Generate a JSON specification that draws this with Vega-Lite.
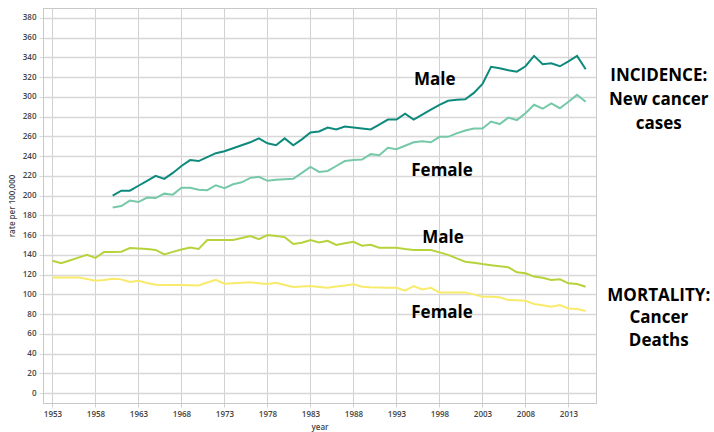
{
  "$schema": "https://vega.github.io/schema/vega-lite/v6.json",
  "autosize": "none",
  "width": 553,
  "height": 395,
  "padding": {"left": 43, "top": 8, "right": 118, "bottom": 29},
  "background": "white",
  "config": {
    "view": {"stroke": "#c8c8c8", "strokeWidth": 1},
    "font": "Open Sans"
  },
  "datasets": {
    "lines": [
      {"year":1960,"value":200,"series":"Incidence Male"},
      {"year":1961,"value":205,"series":"Incidence Male"},
      {"year":1962,"value":205,"series":"Incidence Male"},
      {"year":1963,"value":210,"series":"Incidence Male"},
      {"year":1964,"value":215,"series":"Incidence Male"},
      {"year":1965,"value":220,"series":"Incidence Male"},
      {"year":1966,"value":217,"series":"Incidence Male"},
      {"year":1967,"value":223,"series":"Incidence Male"},
      {"year":1968,"value":230,"series":"Incidence Male"},
      {"year":1969,"value":236,"series":"Incidence Male"},
      {"year":1970,"value":235,"series":"Incidence Male"},
      {"year":1971,"value":239,"series":"Incidence Male"},
      {"year":1972,"value":243,"series":"Incidence Male"},
      {"year":1973,"value":245,"series":"Incidence Male"},
      {"year":1974,"value":248,"series":"Incidence Male"},
      {"year":1975,"value":251,"series":"Incidence Male"},
      {"year":1976,"value":254,"series":"Incidence Male"},
      {"year":1977,"value":258,"series":"Incidence Male"},
      {"year":1978,"value":253,"series":"Incidence Male"},
      {"year":1979,"value":251,"series":"Incidence Male"},
      {"year":1980,"value":258,"series":"Incidence Male"},
      {"year":1981,"value":251,"series":"Incidence Male"},
      {"year":1982,"value":257,"series":"Incidence Male"},
      {"year":1983,"value":264,"series":"Incidence Male"},
      {"year":1984,"value":265,"series":"Incidence Male"},
      {"year":1985,"value":269,"series":"Incidence Male"},
      {"year":1986,"value":267,"series":"Incidence Male"},
      {"year":1987,"value":270,"series":"Incidence Male"},
      {"year":1988,"value":269,"series":"Incidence Male"},
      {"year":1989,"value":268,"series":"Incidence Male"},
      {"year":1990,"value":267,"series":"Incidence Male"},
      {"year":1991,"value":272,"series":"Incidence Male"},
      {"year":1992,"value":277,"series":"Incidence Male"},
      {"year":1993,"value":277,"series":"Incidence Male"},
      {"year":1994,"value":283,"series":"Incidence Male"},
      {"year":1995,"value":277,"series":"Incidence Male"},
      {"year":1996,"value":282,"series":"Incidence Male"},
      {"year":1997,"value":287,"series":"Incidence Male"},
      {"year":1998,"value":292,"series":"Incidence Male"},
      {"year":1999,"value":296,"series":"Incidence Male"},
      {"year":2000,"value":297,"series":"Incidence Male"},
      {"year":2001,"value":297.5,"series":"Incidence Male"},
      {"year":2002,"value":304,"series":"Incidence Male"},
      {"year":2003,"value":313,"series":"Incidence Male"},
      {"year":2004,"value":330.5,"series":"Incidence Male"},
      {"year":2005,"value":329,"series":"Incidence Male"},
      {"year":2006,"value":327,"series":"Incidence Male"},
      {"year":2007,"value":325.5,"series":"Incidence Male"},
      {"year":2008,"value":331,"series":"Incidence Male"},
      {"year":2009,"value":341.5,"series":"Incidence Male"},
      {"year":2010,"value":333,"series":"Incidence Male"},
      {"year":2011,"value":334,"series":"Incidence Male"},
      {"year":2012,"value":331,"series":"Incidence Male"},
      {"year":2013,"value":336,"series":"Incidence Male"},
      {"year":2014,"value":341.5,"series":"Incidence Male"},
      {"year":2015,"value":328,"series":"Incidence Male"},

      {"year":1960,"value":188,"series":"Incidence Female"},
      {"year":1961,"value":189.5,"series":"Incidence Female"},
      {"year":1962,"value":195,"series":"Incidence Female"},
      {"year":1963,"value":193.5,"series":"Incidence Female"},
      {"year":1964,"value":198,"series":"Incidence Female"},
      {"year":1965,"value":197.5,"series":"Incidence Female"},
      {"year":1966,"value":202,"series":"Incidence Female"},
      {"year":1967,"value":201,"series":"Incidence Female"},
      {"year":1968,"value":208,"series":"Incidence Female"},
      {"year":1969,"value":208,"series":"Incidence Female"},
      {"year":1970,"value":206,"series":"Incidence Female"},
      {"year":1971,"value":205.5,"series":"Incidence Female"},
      {"year":1972,"value":210.5,"series":"Incidence Female"},
      {"year":1973,"value":207.5,"series":"Incidence Female"},
      {"year":1974,"value":211.5,"series":"Incidence Female"},
      {"year":1975,"value":213.5,"series":"Incidence Female"},
      {"year":1976,"value":218,"series":"Incidence Female"},
      {"year":1977,"value":219,"series":"Incidence Female"},
      {"year":1978,"value":215,"series":"Incidence Female"},
      {"year":1979,"value":216,"series":"Incidence Female"},
      {"year":1980,"value":216.5,"series":"Incidence Female"},
      {"year":1981,"value":217,"series":"Incidence Female"},
      {"year":1982,"value":223,"series":"Incidence Female"},
      {"year":1983,"value":229,"series":"Incidence Female"},
      {"year":1984,"value":224,"series":"Incidence Female"},
      {"year":1985,"value":225,"series":"Incidence Female"},
      {"year":1986,"value":230,"series":"Incidence Female"},
      {"year":1987,"value":235,"series":"Incidence Female"},
      {"year":1988,"value":236,"series":"Incidence Female"},
      {"year":1989,"value":236.5,"series":"Incidence Female"},
      {"year":1990,"value":242,"series":"Incidence Female"},
      {"year":1991,"value":241,"series":"Incidence Female"},
      {"year":1992,"value":248.5,"series":"Incidence Female"},
      {"year":1993,"value":247,"series":"Incidence Female"},
      {"year":1994,"value":250.5,"series":"Incidence Female"},
      {"year":1995,"value":254,"series":"Incidence Female"},
      {"year":1996,"value":255,"series":"Incidence Female"},
      {"year":1997,"value":254,"series":"Incidence Female"},
      {"year":1998,"value":259.5,"series":"Incidence Female"},
      {"year":1999,"value":259.5,"series":"Incidence Female"},
      {"year":2000,"value":263,"series":"Incidence Female"},
      {"year":2001,"value":266,"series":"Incidence Female"},
      {"year":2002,"value":268,"series":"Incidence Female"},
      {"year":2003,"value":268,"series":"Incidence Female"},
      {"year":2004,"value":275,"series":"Incidence Female"},
      {"year":2005,"value":272.5,"series":"Incidence Female"},
      {"year":2006,"value":279,"series":"Incidence Female"},
      {"year":2007,"value":276.5,"series":"Incidence Female"},
      {"year":2008,"value":283.5,"series":"Incidence Female"},
      {"year":2009,"value":292,"series":"Incidence Female"},
      {"year":2010,"value":288,"series":"Incidence Female"},
      {"year":2011,"value":293.5,"series":"Incidence Female"},
      {"year":2012,"value":288.5,"series":"Incidence Female"},
      {"year":2013,"value":295,"series":"Incidence Female"},
      {"year":2014,"value":302,"series":"Incidence Female"},
      {"year":2015,"value":295,"series":"Incidence Female"},

      {"year":1953,"value":134,"series":"Mortality Male"},
      {"year":1954,"value":131.5,"series":"Mortality Male"},
      {"year":1955,"value":134.3,"series":"Mortality Male"},
      {"year":1956,"value":137.2,"series":"Mortality Male"},
      {"year":1957,"value":140,"series":"Mortality Male"},
      {"year":1958,"value":137,"series":"Mortality Male"},
      {"year":1959,"value":143,"series":"Mortality Male"},
      {"year":1960,"value":143,"series":"Mortality Male"},
      {"year":1961,"value":143.2,"series":"Mortality Male"},
      {"year":1962,"value":147,"series":"Mortality Male"},
      {"year":1963,"value":146.5,"series":"Mortality Male"},
      {"year":1964,"value":146,"series":"Mortality Male"},
      {"year":1965,"value":145,"series":"Mortality Male"},
      {"year":1966,"value":140.5,"series":"Mortality Male"},
      {"year":1967,"value":143,"series":"Mortality Male"},
      {"year":1968,"value":145.5,"series":"Mortality Male"},
      {"year":1969,"value":147.5,"series":"Mortality Male"},
      {"year":1970,"value":146,"series":"Mortality Male"},
      {"year":1971,"value":155,"series":"Mortality Male"},
      {"year":1972,"value":155,"series":"Mortality Male"},
      {"year":1973,"value":155,"series":"Mortality Male"},
      {"year":1974,"value":155,"series":"Mortality Male"},
      {"year":1975,"value":157,"series":"Mortality Male"},
      {"year":1976,"value":159,"series":"Mortality Male"},
      {"year":1977,"value":156,"series":"Mortality Male"},
      {"year":1978,"value":160,"series":"Mortality Male"},
      {"year":1979,"value":159,"series":"Mortality Male"},
      {"year":1980,"value":158,"series":"Mortality Male"},
      {"year":1981,"value":151,"series":"Mortality Male"},
      {"year":1982,"value":152.3,"series":"Mortality Male"},
      {"year":1983,"value":155,"series":"Mortality Male"},
      {"year":1984,"value":152.5,"series":"Mortality Male"},
      {"year":1985,"value":154.3,"series":"Mortality Male"},
      {"year":1986,"value":150,"series":"Mortality Male"},
      {"year":1987,"value":151.7,"series":"Mortality Male"},
      {"year":1988,"value":153.3,"series":"Mortality Male"},
      {"year":1989,"value":149.3,"series":"Mortality Male"},
      {"year":1990,"value":150.3,"series":"Mortality Male"},
      {"year":1991,"value":147.2,"series":"Mortality Male"},
      {"year":1992,"value":147.2,"series":"Mortality Male"},
      {"year":1993,"value":147.2,"series":"Mortality Male"},
      {"year":1994,"value":146,"series":"Mortality Male"},
      {"year":1995,"value":145,"series":"Mortality Male"},
      {"year":1996,"value":145,"series":"Mortality Male"},
      {"year":1997,"value":145,"series":"Mortality Male"},
      {"year":1998,"value":142.5,"series":"Mortality Male"},
      {"year":1999,"value":140,"series":"Mortality Male"},
      {"year":2000,"value":136.5,"series":"Mortality Male"},
      {"year":2001,"value":133,"series":"Mortality Male"},
      {"year":2002,"value":132,"series":"Mortality Male"},
      {"year":2003,"value":130.7,"series":"Mortality Male"},
      {"year":2004,"value":129.6,"series":"Mortality Male"},
      {"year":2005,"value":128.5,"series":"Mortality Male"},
      {"year":2006,"value":127.4,"series":"Mortality Male"},
      {"year":2007,"value":122.3,"series":"Mortality Male"},
      {"year":2008,"value":121.3,"series":"Mortality Male"},
      {"year":2009,"value":118,"series":"Mortality Male"},
      {"year":2010,"value":116.8,"series":"Mortality Male"},
      {"year":2011,"value":114.5,"series":"Mortality Male"},
      {"year":2012,"value":115.2,"series":"Mortality Male"},
      {"year":2013,"value":111.2,"series":"Mortality Male"},
      {"year":2014,"value":110.5,"series":"Mortality Male"},
      {"year":2015,"value":107.7,"series":"Mortality Male"},

      {"year":1953,"value":117.2,"series":"Mortality Female"},
      {"year":1954,"value":117.2,"series":"Mortality Female"},
      {"year":1955,"value":117.2,"series":"Mortality Female"},
      {"year":1956,"value":117.2,"series":"Mortality Female"},
      {"year":1957,"value":115.5,"series":"Mortality Female"},
      {"year":1958,"value":113.8,"series":"Mortality Female"},
      {"year":1959,"value":114.5,"series":"Mortality Female"},
      {"year":1960,"value":115.8,"series":"Mortality Female"},
      {"year":1961,"value":115.2,"series":"Mortality Female"},
      {"year":1962,"value":112.5,"series":"Mortality Female"},
      {"year":1963,"value":113.8,"series":"Mortality Female"},
      {"year":1964,"value":111.5,"series":"Mortality Female"},
      {"year":1965,"value":109.7,"series":"Mortality Female"},
      {"year":1966,"value":109.5,"series":"Mortality Female"},
      {"year":1967,"value":109.5,"series":"Mortality Female"},
      {"year":1968,"value":109.5,"series":"Mortality Female"},
      {"year":1969,"value":109.3,"series":"Mortality Female"},
      {"year":1970,"value":109.1,"series":"Mortality Female"},
      {"year":1971,"value":112,"series":"Mortality Female"},
      {"year":1972,"value":114.8,"series":"Mortality Female"},
      {"year":1973,"value":110.8,"series":"Mortality Female"},
      {"year":1974,"value":111.2,"series":"Mortality Female"},
      {"year":1975,"value":111.7,"series":"Mortality Female"},
      {"year":1976,"value":112.2,"series":"Mortality Female"},
      {"year":1977,"value":111.3,"series":"Mortality Female"},
      {"year":1978,"value":110.5,"series":"Mortality Female"},
      {"year":1979,"value":111.8,"series":"Mortality Female"},
      {"year":1980,"value":109.5,"series":"Mortality Female"},
      {"year":1981,"value":107.4,"series":"Mortality Female"},
      {"year":1982,"value":108,"series":"Mortality Female"},
      {"year":1983,"value":108.4,"series":"Mortality Female"},
      {"year":1984,"value":107.5,"series":"Mortality Female"},
      {"year":1985,"value":106.7,"series":"Mortality Female"},
      {"year":1986,"value":108,"series":"Mortality Female"},
      {"year":1987,"value":109,"series":"Mortality Female"},
      {"year":1988,"value":110.2,"series":"Mortality Female"},
      {"year":1989,"value":107.7,"series":"Mortality Female"},
      {"year":1990,"value":107.2,"series":"Mortality Female"},
      {"year":1991,"value":107,"series":"Mortality Female"},
      {"year":1992,"value":106.8,"series":"Mortality Female"},
      {"year":1993,"value":106.7,"series":"Mortality Female"},
      {"year":1994,"value":103.7,"series":"Mortality Female"},
      {"year":1995,"value":108.4,"series":"Mortality Female"},
      {"year":1996,"value":105,"series":"Mortality Female"},
      {"year":1997,"value":106.7,"series":"Mortality Female"},
      {"year":1998,"value":102,"series":"Mortality Female"},
      {"year":1999,"value":102,"series":"Mortality Female"},
      {"year":2000,"value":102,"series":"Mortality Female"},
      {"year":2001,"value":102,"series":"Mortality Female"},
      {"year":2002,"value":100,"series":"Mortality Female"},
      {"year":2003,"value":97.6,"series":"Mortality Female"},
      {"year":2004,"value":97.6,"series":"Mortality Female"},
      {"year":2005,"value":97,"series":"Mortality Female"},
      {"year":2006,"value":94.2,"series":"Mortality Female"},
      {"year":2007,"value":94,"series":"Mortality Female"},
      {"year":2008,"value":93.5,"series":"Mortality Female"},
      {"year":2009,"value":90.2,"series":"Mortality Female"},
      {"year":2010,"value":89,"series":"Mortality Female"},
      {"year":2011,"value":87.5,"series":"Mortality Female"},
      {"year":2012,"value":89.2,"series":"Mortality Female"},
      {"year":2013,"value":85.8,"series":"Mortality Female"},
      {"year":2014,"value":85.1,"series":"Mortality Female"},
      {"year":2015,"value":83.1,"series":"Mortality Female"}
    ],
    "labels": [
      {"year":1997.45,"value":317,"label":"Male"},
      {"year":1998.3,"value":225,"label":"Female"},
      {"year":1998.4,"value":157,"label":"Male"},
      {"year":1998.3,"value":81,"label":"Female"},
      {"year":2023.5,"value":321,"label":"INCIDENCE:"},
      {"year":2023.5,"value":297,"label":"New cancer"},
      {"year":2023.5,"value":272.6,"label":"cases"},
      {"year":2023.5,"value":98.3,"label":"MORTALITY:"},
      {"year":2023.5,"value":76,"label":"Cancer"},
      {"year":2023.5,"value":52.7,"label":"Deaths"}
    ]
  },
  "encoding": {
    "x": {
      "field": "year", "type": "quantitative",
      "scale": {"domain": [1951.9, 2016.2], "nice": false, "zero": false},
      "axis": {
        "values": [1953,1958,1963,1968,1973,1978,1983,1988,1993,1998,2003,2008,2013],
        "format": "d", "title": "year", "labelOverlap": false,
        "grid": true, "gridColor": "#d0d0d5", "gridWidth": 1,
        "domainColor": "#c8c8c8", "tickColor": "#d0d0d5", "tickSize": 4,
        "labelFontSize": 8, "labelFontWeight": 600, "labelColor": "#444",
        "labelPadding": 3,
        "titleFontSize": 8, "titleFontWeight": 600, "titleColor": "#444", "titlePadding": 5
      }
    },
    "y": {
      "field": "value", "type": "quantitative",
      "scale": {"domain": [-10, 390], "nice": false, "zero": false},
      "axis": {
        "values": [0,20,40,60,80,100,120,140,160,180,200,220,240,260,280,300,320,340,360,380],
        "title": "rate per 100,000", "labelOverlap": false,
        "grid": true, "gridColor": "#d8d8d8", "gridWidth": 1.5,
        "domainColor": "#c8c8c8", "tickColor": "#d8d8d8", "tickSize": 4,
        "labelFontSize": 8, "labelFontWeight": 600, "labelColor": "#444",
        "labelPadding": 3,
        "titleFontSize": 8, "titleFontWeight": 600, "titleColor": "#444", "titlePadding": 6
      }
    }
  },
  "layer": [
    {
      "data": {"name": "lines"},
      "mark": {"type": "line", "strokeWidth": 2},
      "encoding": {
        "color": {
          "field": "series", "type": "nominal",
          "scale": {
            "domain": ["Incidence Male", "Incidence Female", "Mortality Male", "Mortality Female"],
            "range": ["#0e8a7d", "#76c9a8", "#b7d33c", "#f8eb6b"]
          },
          "legend": null
        }
      }
    },
    {
      "data": {"name": "labels"},
      "mark": {"type": "text", "font": "Open Sans", "fontWeight": "bold", "fontSize": 17, "color": "black", "align": "center", "baseline": "middle"},
      "encoding": {
        "text": {"field": "label"}
      }
    }
  ]
}
